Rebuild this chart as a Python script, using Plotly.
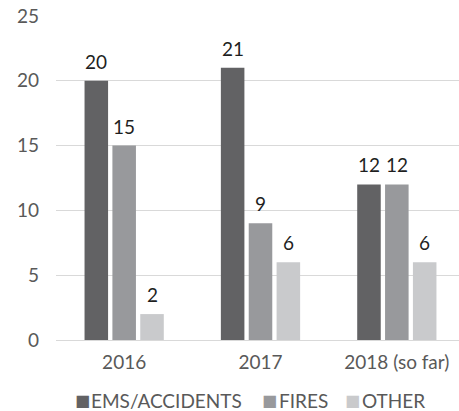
import plotly.graph_objects as go

categories = ["2016", "2017", "2018 (so far)"]
series_names = ["EMS/ACCIDENTS", "FIRES", "OTHER"]
ems = [20, 21, 12]
fires = [15, 9, 12]
other = [2, 6, 6]
colors = ["#626264", "#98999c", "#c9cacc"]
y_ticks = [0, 5, 10, 15, 20, 25]

W, H = 459, 411
ML, MR, MT, MB = 56, 0, 16, 71
BARGAP, GROUPGAP = 0.387, 0.155
XRANGE = [-0.5, 2.456]
FONT = "Lato"
FS = 19

plot_w = W - ML - MR
plot_h = H - MT - MB
unit_px = plot_w / (XRANGE[1] - XRANGE[0])
slot_px = unit_px * (1 - BARGAP) / len(series_names)

fig = go.Figure()
all_vals = [ems, fires, other]
for name, vals, col in zip(series_names, all_vals, colors):
    fig.add_trace(go.Bar(
        x=categories, y=vals, name=name,
        marker=dict(color=col, line=dict(width=0)),
        showlegend=False,
    ))

annotations = []
for j, vals in enumerate(all_vals):
    for i, v in enumerate(vals):
        annotations.append(dict(
            x=i, y=v, xref="x", yref="y", text=str(v), showarrow=False,
            xanchor="center", yanchor="bottom",
            xshift=(j - (len(series_names) - 1) / 2) * slot_px, yshift=6,
            font=dict(family=FONT, size=FS, color="#1f1f1f"),
        ))

# legend: colour square + label
legend_y = -(400 - (H - MB)) / plot_h
legend_sq_px = [74, 261, 344]
legend_txt_px = [90, 278, 361]
for name, col, sx, tx in zip(series_names, colors, legend_sq_px, legend_txt_px):
    annotations.append(dict(
        x=(sx - ML) / plot_w, y=legend_y, xref="paper", yref="paper",
        xanchor="left", yanchor="middle", showarrow=False, borderpad=0,
        text="■", font=dict(family="DejaVu Sans", size=16, color=col),
    ))
    annotations.append(dict(
        x=(tx - ML) / plot_w, y=legend_y, xref="paper", yref="paper",
        xanchor="left", yanchor="middle", showarrow=False, borderpad=0,
        text=name, font=dict(family=FONT, size=FS, color="#595959"),
    ))

fig.update_layout(
    width=W, height=H,
    margin=dict(l=ML, r=MR, t=MT, b=MB),
    paper_bgcolor="white", plot_bgcolor="white",
    barmode="group", bargap=BARGAP, bargroupgap=GROUPGAP,
    font=dict(family=FONT, size=FS, color="#595959"),
    showlegend=False,
    annotations=annotations,
)
fig.update_yaxes(range=[0, 25], tickvals=y_ticks, showgrid=True, gridcolor="#d9d9d9",
                 gridwidth=1, zeroline=False, showline=False, ticks="",
                 ticklabelstandoff=16, automargin=False)
fig.update_xaxes(type="category", range=XRANGE, showline=True, linecolor="#d9d9d9",
                 linewidth=1, ticks="", ticklabelstandoff=5, automargin=False)

fig.write_html("out.html", config={"displayModeBar": False},
               post_script="document.body.style.margin='0';")
